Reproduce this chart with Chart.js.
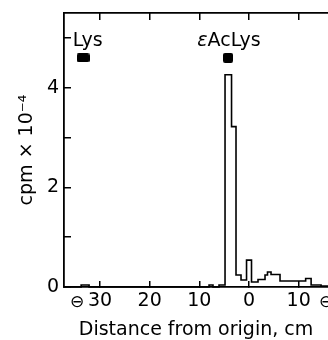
<!DOCTYPE html>
<html><head><meta charset="utf-8">
<script src="https://cdn.jsdelivr.net/npm/chart.js@4/dist/chart.umd.min.js"></script>
<style>html,body{margin:0;padding:0;background:#fff}</style>
</head><body>
<canvas id="c" width="328" height="340"></canvas>
<script>
// ---- data ----
const binEdges = [-37.25, -33.8, -32.2, -8.05, -7.25, -6.04, -4.83, -3.52, -2.62, -1.61, -0.5, 0.5, 1.81, 3.22, 3.72, 4.43, 6.24, 11.4, 12.5, 14.5, 15.9];
const cpmValues = [0, 0.04, 0, 0.04, 0, 0.04, 4.26, 3.22, 0.24, 0.14, 0.54, 0.1, 0.15, 0.24, 0.3, 0.25, 0.12, 0.17, 0.04, 0.02];
const markerNames = ['Lys', 'εAcLys'];
const markerX = [-33.4, -4.23];
const markerY = [4.6, 4.6];
const xTickValues = [-30, -20, -10, 0, 10];
const yTickValues = [0, 1, 2, 3, 4, 5];
const yLabeledTicks = [0, 2, 4];
const xMin = -37.25, xMax = 15.9, yMin = 0, yMax = 5.5;

// ---- styles ----
const FONT = "'DejaVu Sans', 'Liberation Sans', Arial, sans-serif";
Chart.defaults.font.family = FONT;
Chart.defaults.color = '#000';

function roundRectCanvas(w, h, r) {
  const c = document.createElement('canvas');
  c.width = w; c.height = h;
  const g = c.getContext('2d');
  g.fillStyle = '#000';
  g.beginPath();
  g.roundRect(0, 0, w, h, r);
  g.fill();
  return c;
}
const markerImages = [roundRectCanvas(13, 9, 2), roundRectCanvas(10, 10, 2)];
const labelShift = [4.5, 1];

const histPoints = binEdges.map((x, i) => ({x, y: i < cpmValues.length ? cpmValues[i] : cpmValues[cpmValues.length - 1]}));
const markerPoints = markerX.map((x, i) => ({x, y: markerY[i]}));

const labelPlugin = {
  id: 'markerLabels',
  afterDraw(chart) {
    const {ctx} = chart;
    const x = chart.scales.x, y = chart.scales.y;
    ctx.save();
    ctx.fillStyle = '#000';
    ctx.textBaseline = 'alphabetic';
    markerNames.forEach((name, i) => {
      const cx = x.getPixelForValue(markerX[i]) + labelShift[i];
      const by = y.getPixelForValue(markerY[i]) - 11.5;
      let pre = '', rest = name;
      if (name[0] === 'ε') { pre = 'ε'; rest = name.slice(1); }
      ctx.font = 'italic 19px ' + FONT;
      const wPre = pre ? ctx.measureText(pre).width : 0;
      ctx.font = '19px ' + FONT;
      const wRest = ctx.measureText(rest).width;
      let sx = cx - (wPre + wRest) / 2;
      ctx.textAlign = 'left';
      if (pre) { ctx.font = 'italic 19px ' + FONT; ctx.fillText(pre, sx, by); sx += wPre; }
      ctx.font = '19px ' + FONT;
      ctx.fillText(rest, sx, by);
    });
    // circled-minus electrode signs on the distance axis
    ctx.font = "17px 'DejaVu Sans', sans-serif";
    ctx.textAlign = 'center';
    ctx.textBaseline = 'middle';
    const ly = x.top + 16;
    ctx.fillText('⊖', x.getPixelForValue(-30) - 23, ly);
    ctx.fillText('⊖', x.right - 2, ly);
    ctx.restore();
  }
};

const setXTicks = s => { s.ticks = xTickValues.map(v => ({value: v})); };
const setYTicks = s => { s.ticks = yTickValues.map(v => ({value: v})); };
const fitX = h => s => { s.height = h; s.paddingLeft = 0; s.paddingRight = 0; };
const fitY = s => { s.width = 64; s.paddingTop = 0; s.paddingBottom = 0; };

new Chart(document.getElementById('c'), {
  type: 'line',
  data: {
    datasets: [
      {type: 'line', data: histPoints, stepped: 'before', borderColor: '#000', borderWidth: 1.6,
       pointRadius: 0, fill: false, xAxisID: 'x', yAxisID: 'y', clip: false},
      {type: 'scatter', data: markerPoints, pointStyle: markerImages, pointRadius: 6,
       backgroundColor: '#000', borderWidth: 0, xAxisID: 'x', yAxisID: 'y', clip: false}
    ]
  },
  options: {
    responsive: false, animation: false, devicePixelRatio: 1,
    layout: {autoPadding: false, padding: {top: 13, right: 0, left: 0, bottom: 0}},
    plugins: {legend: {display: false}, tooltip: {enabled: false}},
    scales: {
      x: {
        type: 'linear', position: 'bottom', min: xMin, max: xMax,
        afterBuildTicks: setXTicks, afterFit: fitX(53),
        grid: {drawOnChartArea: false, drawTicks: true, tickLength: -6, color: '#000', lineWidth: 1.5},
        border: {display: true, color: '#000', width: 1.8},
        ticks: {padding: 9, color: '#000', font: {size: 19}, maxRotation: 0, autoSkip: false,
                callback: v => String(Math.abs(v))},
        title: {display: true, text: 'Distance from origin, cm', color: '#000',
                font: {size: 19, lineHeight: 1}, padding: 0}
      },
      x2: {
        type: 'linear', position: 'top', min: xMin, max: xMax,
        afterBuildTicks: setXTicks, afterFit: fitX(0),
        grid: {drawOnChartArea: false, drawTicks: true, tickLength: -7, color: '#000', lineWidth: 1.5},
        border: {display: true, color: '#000', width: 1.8},
        ticks: {display: false}
      },
      y: {
        type: 'linear', position: 'left', min: yMin, max: yMax,
        afterBuildTicks: setYTicks, afterFit: fitY,
        grid: {drawOnChartArea: false, drawTicks: true, tickLength: -7, color: '#000', lineWidth: 1.5},
        border: {display: true, color: '#000', width: 1.8},
        ticks: {padding: 12, color: '#000', font: {size: 19}, autoSkip: false,
                callback: v => yLabeledTicks.includes(v) ? String(v) : ''},
        title: {display: true, text: 'cpm × 10⁻⁴', color: '#000',
                font: {size: 19, lineHeight: 1}, padding: {top: 18, bottom: 0}}
      }
    }
  },
  plugins: [labelPlugin]
});
</script>
</body></html>
